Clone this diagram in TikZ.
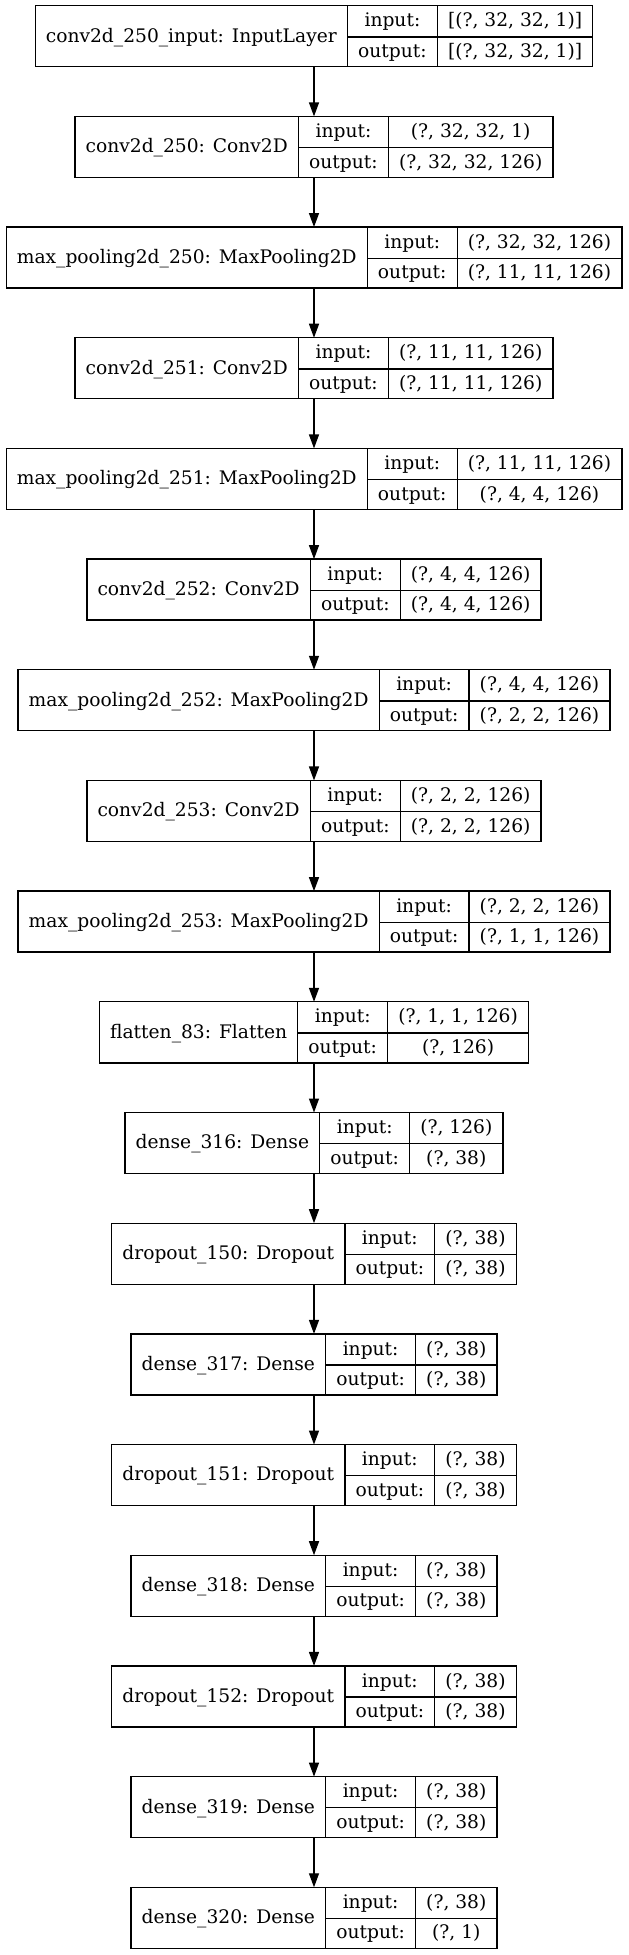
\documentclass[tikz,border=0pt]{standalone}
\usepackage{fontspec}
\setmainfont{DejaVu Serif}
\usetikzlibrary{arrows.meta}
\setlength{\arrayrulewidth}{1bp}
\setlength{\tabcolsep}{8bp}
\newcommand\rowstrut{\rule[-7.0bp]{0pt}{22.875bp}}
\newcommand\layerrec[3]{%
  \begin{tabular}{c|c|c}
    \raisebox{-11.44bp}[0pt][0pt]{#1} & \rowstrut input: & #2\\ \cline{2-3}
     & \rowstrut output: & #3
  \end{tabular}}
\tikzset{
  rec/.style={draw=black, line width=1bp, inner sep=0pt, outer sep=0pt,
    font=\fontsize{14bp}{16.8bp}\selectfont},
  edge/.style={draw=black, line width=1bp, -{Triangle[length=10.5bp,width=7.5bp]}}
}
\newcommand\layer[4]{\node[rec] (L#1) at (314, {36.2+110.68*(#1-1)}) {\layerrec{#2}{#3}{#4}};}
\begin{document}
\begin{tikzpicture}[x=0.75bp, y=-0.75bp]
\useasboundingbox (0,0) rectangle (628,1955);
\layer{1}{conv2d\_250\_input: InputLayer}{[(?, 32, 32, 1)]}{[(?, 32, 32, 1)]}
\layer{2}{conv2d\_250: Conv2D}{(?, 32, 32, 1)}{(?, 32, 32, 126)}
\layer{3}{max\_pooling2d\_250: MaxPooling2D}{(?, 32, 32, 126)}{(?, 11, 11, 126)}
\layer{4}{conv2d\_251: Conv2D}{(?, 11, 11, 126)}{(?, 11, 11, 126)}
\layer{5}{max\_pooling2d\_251: MaxPooling2D}{(?, 11, 11, 126)}{(?, 4, 4, 126)}
\layer{6}{conv2d\_252: Conv2D}{(?, 4, 4, 126)}{(?, 4, 4, 126)}
\layer{7}{max\_pooling2d\_252: MaxPooling2D}{(?, 4, 4, 126)}{(?, 2, 2, 126)}
\layer{8}{conv2d\_253: Conv2D}{(?, 2, 2, 126)}{(?, 2, 2, 126)}
\layer{9}{max\_pooling2d\_253: MaxPooling2D}{(?, 2, 2, 126)}{(?, 1, 1, 126)}
\layer{10}{flatten\_83: Flatten}{(?, 1, 1, 126)}{(?, 126)}
\layer{11}{dense\_316: Dense}{(?, 126)}{(?, 38)}
\layer{12}{dropout\_150: Dropout}{(?, 38)}{(?, 38)}
\layer{13}{dense\_317: Dense}{(?, 38)}{(?, 38)}
\layer{14}{dropout\_151: Dropout}{(?, 38)}{(?, 38)}
\layer{15}{dense\_318: Dense}{(?, 38)}{(?, 38)}
\layer{16}{dropout\_152: Dropout}{(?, 38)}{(?, 38)}
\layer{17}{dense\_319: Dense}{(?, 38)}{(?, 38)}
\layer{18}{dense\_320: Dense}{(?, 38)}{(?, 1)}
\foreach \a [evaluate=\a as \b using int(\a+1)] in {1,...,17}
  \draw[edge] (L\a) -- (L\b);
\end{tikzpicture}
\end{document}
